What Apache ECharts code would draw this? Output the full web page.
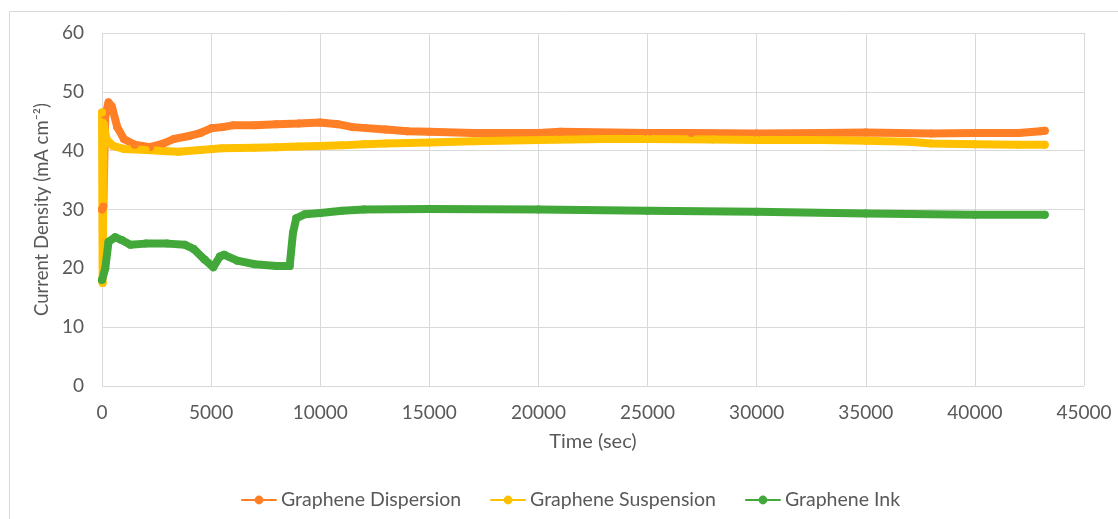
<!DOCTYPE html>
<html><head><meta charset="utf-8">
<script src="https://cdn.jsdelivr.net/npm/echarts@6/dist/echarts.min.js"></script>
<style>html,body{margin:0;padding:0;background:#fff}#c{width:1118px;height:519px}</style>
</head><body><div id="c"></div>
<script>
var seriesNames = ['Graphene Dispersion', 'Graphene Suspension', 'Graphene Ink'];
var dispersion = [[0,30],[60,30.5],[150,46],[300,48.2],[450,47.5],[700,44],[1000,42],[1500,41],[2200,40.6],[2800,41.2],[3300,42],[4000,42.5],[4500,43],[5000,43.8],[5500,44],[6000,44.3],[7000,44.3],[8000,44.5],[9000,44.6],[10000,44.8],[10800,44.5],[11500,44],[13000,43.6],[14000,43.3],[15000,43.2],[17000,43],[20000,43],[21000,43.2],[25000,43],[27000,43],[30000,42.9],[33000,43],[35000,43.1],[38000,42.9],[40000,43],[42000,43],[43000,43.3],[43200,43.4]];
var suspension = [[0,46.5],[30,17.5],[80,44.5],[200,42],[500,40.8],[1000,40.3],[2000,40.1],[3000,39.9],[3500,39.8],[4500,40.1],[5500,40.4],[7000,40.5],[8000,40.6],[9000,40.7],[10000,40.8],[11000,40.9],[12000,41.1],[13000,41.2],[15000,41.4],[17000,41.6],[20000,41.8],[23000,42],[25000,42],[28000,41.9],[30000,41.8],[33000,41.8],[35000,41.7],[37000,41.5],[38000,41.2],[40000,41.1],[42000,41],[43200,41]];
var ink = [[0,18],[150,20],[300,24.5],[600,25.3],[900,24.8],[1300,24],[2000,24.2],[3000,24.2],[3800,24],[4200,23.3],[4700,21.5],[5100,20.2],[5400,22],[5600,22.3],[6200,21.3],[7000,20.7],[8000,20.4],[8600,20.4],[8750,26],[8900,28.5],[9300,29.2],[10000,29.4],[11000,29.8],[12000,30],[15000,30.1],[20000,30],[25000,29.8],[30000,29.6],[35000,29.3],[40000,29.1],[43200,29.1]];
var colors = ['#FF7F27', '#FFC000', '#43A83A'];
var font = 'Lato';
var txt = '#595959';
var chart = echarts.init(document.getElementById('c'));
function mk(name, data, color) {
  return {
    name: name, type: 'line', data: data, color: color,
    showSymbol: true, symbol: 'circle', symbolSize: 8,
    lineStyle: {width: 8, cap: 'round', join: 'round', color: color},
    itemStyle: {color: color},
    animation: false
  };
}
chart.setOption({
  animation: false,
  graphic: [{type: 'rect', shape: {x: 9.5, y: 11.5, width: 1200, height: 600}, style: {fill: 'none', stroke: '#d9d9d9', lineWidth: 1}}],
  grid: {left: 102, right: 34, top: 33, bottom: 133, containLabel: false},
  legend: {
    left: 236, top: 485, itemGap: 29, itemWidth: 34, itemHeight: 11,
    textStyle: {fontFamily: font, fontSize: 19.5, color: txt},
    data: seriesNames
  },
  xAxis: {
    type: 'value', min: 0, max: 45000, interval: 5000,
    name: 'Time (sec)', nameLocation: 'middle', nameGap: 46,
    nameTextStyle: {fontFamily: font, fontSize: 20, color: txt},
    axisLine: {show: false}, axisTick: {show: false},
    axisLabel: {fontFamily: font, fontSize: 19, color: txt, margin: 17, formatter: function (v) { return String(v); }},
    splitLine: {show: true, lineStyle: {color: '#d9d9d9', width: 1}}
  },
  yAxis: {
    type: 'value', min: 0, max: 60, interval: 10,
    name: 'Current Density (mA cm\u207B\u00B2)', nameLocation: 'middle', nameGap: 46,
    nameTextStyle: {fontFamily: font, fontSize: 18.5, color: txt},
    axisLine: {show: false}, axisTick: {show: false},
    axisLabel: {fontFamily: font, fontSize: 19, color: txt, margin: 18},
    splitLine: {show: true, lineStyle: {color: '#d9d9d9', width: 1}}
  },
  series: [mk(seriesNames[0], dispersion, colors[0]), mk(seriesNames[1], suspension, colors[1]), mk(seriesNames[2], ink, colors[2])]
});
</script></body></html>
